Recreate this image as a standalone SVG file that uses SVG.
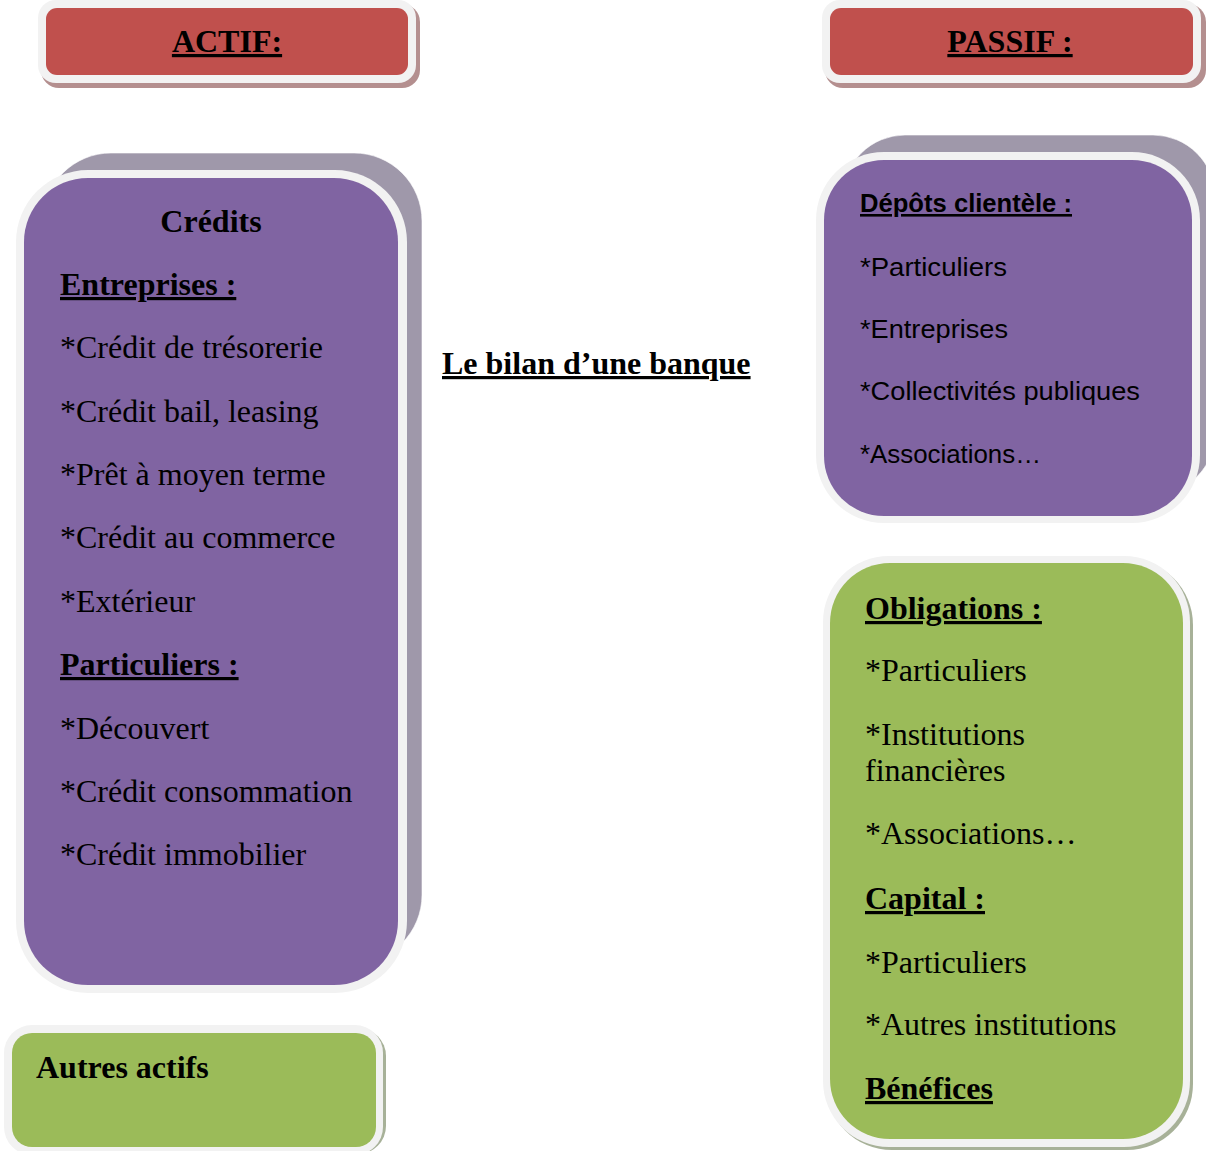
<svg xmlns="http://www.w3.org/2000/svg" width="1206" height="1151" viewBox="0 0 1206 1151">
<style>
.serif{font-family:"Liberation Serif","Times New Roman",serif;font-size:32px;fill:#000}
.b{font-weight:bold}
.u{text-decoration:underline}
.sans{font-family:"Liberation Sans",Arial,sans-serif;font-size:26px;fill:#000}
.rim{fill:#F2F2F2}
.red{fill:#C0504D}
.purple{fill:#8064A2}
.green{fill:#9BBB59}
.redsh{fill:#B48F8F}
.back{fill:#9F98AA;stroke:#FFFFFF;stroke-opacity:0.6;stroke-width:1}
.greensh{fill:#A7B198}
</style>
<rect width="1206" height="1151" fill="#FFFFFF"/>

<g id="actif">
  <rect class="redsh" x="41" y="4" width="379" height="84" rx="18"/>
  <rect class="rim" x="38" y="0" width="378" height="83" rx="18"/>
  <rect class="red" x="46" y="8" width="362" height="67" rx="11"/>
  <text class="serif b u" x="227" y="52" text-anchor="middle">ACTIF:</text>
</g>

<g id="passif">
  <rect class="redsh" x="825" y="4" width="381" height="84" rx="18"/>
  <rect class="rim" x="822" y="0" width="379" height="83" rx="18"/>
  <rect class="red" x="830" y="8" width="363" height="67" rx="11"/>
  <text class="serif b u" x="1010" y="52" text-anchor="middle">PASSIF :</text>
</g>

<g id="credits">
  <rect class="back" x="43" y="153" width="379" height="810" rx="68"/>
  <rect class="rim" x="16" y="170" width="391" height="823" rx="72"/>
  <rect class="purple" x="24" y="178" width="374" height="807" rx="64"/>
  <text class="serif b" x="211" y="232" text-anchor="middle">Crédits</text>
  <text class="serif b u" x="60" y="295">Entreprises :</text>
  <text class="serif" x="60" y="358">*Crédit de trésorerie</text>
  <text class="serif" x="60" y="422">*Crédit bail, leasing</text>
  <text class="serif" x="60" y="485">*Prêt à moyen terme</text>
  <text class="serif" x="60" y="548">*Crédit au commerce</text>
  <text class="serif" x="60" y="612">*Extérieur</text>
  <text class="serif b u" x="60" y="675">Particuliers :</text>
  <text class="serif" x="60" y="739">*Découvert</text>
  <text class="serif" x="60" y="802">*Crédit consommation</text>
  <text class="serif" x="60" y="865">*Crédit immobilier</text>
</g>

<g id="autres-actifs">
  <rect class="greensh" x="7" y="1028" width="379" height="126" rx="28"/>
  <rect class="rim" x="4" y="1025" width="379" height="130" rx="28"/>
  <rect class="green" x="12" y="1033" width="364" height="114" rx="20"/>
  <text class="serif b" x="36" y="1078">Autres actifs</text>
</g>

<g id="titre">
  <text class="serif b u" x="442" y="374">Le bilan d’une banque</text>
</g>

<g id="depots">
  <rect class="back" x="843" y="135" width="372" height="360" rx="62"/>
  <rect class="rim" x="816" y="152" width="384" height="371" rx="68"/>
  <rect class="purple" x="824" y="160" width="368" height="356" rx="60"/>
  <text class="sans b u" x="860" y="212" textLength="212" lengthAdjust="spacingAndGlyphs">Dépôts clientèle :</text>
  <text class="sans" x="860" y="276" textLength="147" lengthAdjust="spacingAndGlyphs">*Particuliers</text>
  <text class="sans" x="860" y="338" textLength="148" lengthAdjust="spacingAndGlyphs">*Entreprises</text>
  <text class="sans" x="860" y="400" textLength="280" lengthAdjust="spacingAndGlyphs">*Collectivités publiques</text>
  <text class="sans" x="860" y="463" textLength="181" lengthAdjust="spacingAndGlyphs">*Associations…</text>
</g>

<g id="obligations">
  <rect class="greensh" x="826" y="559" width="367" height="591" rx="66"/>
  <rect class="rim" x="823" y="556" width="367" height="591" rx="66"/>
  <rect class="green" x="830" y="563" width="353" height="576" rx="60"/>
  <text class="serif b u" x="865" y="619">Obligations :</text>
  <text class="serif" x="865" y="681">*Particuliers</text>
  <text class="serif" x="865" y="745">*Institutions</text>
  <text class="serif" x="865" y="781">financières</text>
  <text class="serif" x="865" y="844">*Associations…</text>
  <text class="serif b u" x="865" y="909">Capital :</text>
  <text class="serif" x="865" y="973">*Particuliers</text>
  <text class="serif" x="865" y="1035">*Autres institutions</text>
  <text class="serif b u" x="865" y="1099">Bénéfices</text>
</g>

<g id="connectors"></g>
</svg>
